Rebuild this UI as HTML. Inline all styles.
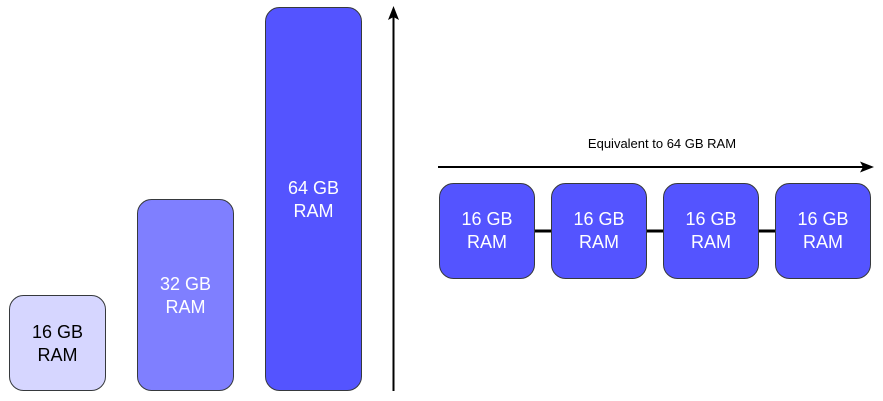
<!DOCTYPE html>
<html><head><meta charset="utf-8"><style>
html,body{margin:0;padding:0;background:#fff;}
svg{display:block;}
text{font-family:"Liberation Sans",Arial,sans-serif;}
</style></head><body>
<svg width="883" height="401" viewBox="0 0 883 401" xmlns="http://www.w3.org/2000/svg">
<rect x="9.5" y="295.5" width="96" height="95" rx="14" fill="#d6d6ff" stroke="#36393d"/>
<text x="57.5" y="338" font-size="18" text-anchor="middle" fill="#000">16 GB</text>
<text x="57.5" y="361" font-size="18" text-anchor="middle" fill="#000">RAM</text>

<rect x="137.5" y="199.5" width="96" height="191" rx="14" fill="#7f7fff" stroke="#36393d"/>
<text x="185.5" y="290" font-size="18" text-anchor="middle" fill="#fff">32 GB</text>
<text x="185.5" y="313" font-size="18" text-anchor="middle" fill="#fff">RAM</text>

<rect x="265.5" y="7.5" width="96" height="383" rx="14" fill="#5454ff" stroke="#36393d"/>
<text x="313.5" y="194" font-size="18" text-anchor="middle" fill="#fff">64 GB</text>
<text x="313.5" y="217" font-size="18" text-anchor="middle" fill="#fff">RAM</text>

<line x1="393.5" y1="391" x2="393.5" y2="16" stroke="#000" stroke-width="2"/>
<polygon points="393.5,6 399,20 393.5,17 388,20" fill="#000"/>

<text x="662" y="148" font-size="13" text-anchor="middle" fill="#000">Equivalent to 64 GB RAM</text>
<line x1="438" y1="167" x2="864" y2="167" stroke="#000" stroke-width="2"/>
<polygon points="874,167 860,172.5 863,167 860,161.5" fill="#000"/>

<line x1="534" y1="231" x2="776" y2="231" stroke="#000" stroke-width="3"/>
<g fill="#5454ff" stroke="#36393d">
<rect x="439.5" y="183.5" width="95" height="95" rx="14"/>
<rect x="551.5" y="183.5" width="95" height="95" rx="14"/>
<rect x="663.5" y="183.5" width="95" height="95" rx="14"/>
<rect x="775.5" y="183.5" width="95" height="95" rx="14"/>
</g>
<g font-size="18" text-anchor="middle" fill="#fff">
<text x="487" y="225">16 GB</text><text x="487" y="248">RAM</text>
<text x="599" y="225">16 GB</text><text x="599" y="248">RAM</text>
<text x="711" y="225">16 GB</text><text x="711" y="248">RAM</text>
<text x="823" y="225">16 GB</text><text x="823" y="248">RAM</text>
</g>
</svg>
</body></html>
